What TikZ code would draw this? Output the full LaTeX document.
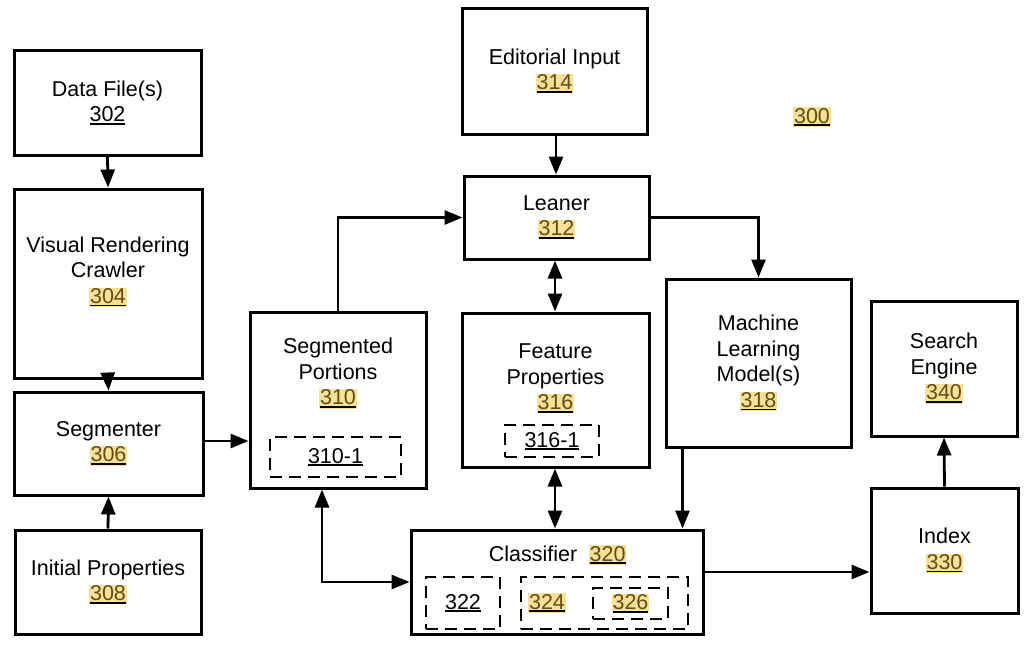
\documentclass[tikz,border=0pt]{standalone}
\usepackage{fontspec}
\setmainfont{Liberation Sans}
\usetikzlibrary{arrows.meta,positioning}
\definecolor{hlbg}{RGB}{248,224,150}
\definecolor{hltx}{RGB}{96,78,22}
\newcommand\ulnum[1]{\setbox0\hbox{#1}\leavevmode\rlap{\rule[-3pt]{\wd0}{1.6pt}}\box0}
\newcommand\hlnum[1]{{\setlength\fboxsep{0.6pt}\colorbox{hlbg}{\ulnum{\textcolor{hltx}{#1}}}}}
\tikzset{
  every node/.style={font=\fontsize{21.5}{25.5}\selectfont},
  blk/.style={draw, line width=3pt, rectangle, inner sep=0pt, align=center},
  dbox/.style={draw, line width=2.8pt, dash pattern=on 12pt off 7pt, rectangle, inner sep=0pt, align=center},
  txt/.style={align=center, inner sep=0pt},
  arr/.style={line width=2.8pt, -{Triangle[length=18pt,width=14pt]}},
  darr/.style={line width=2.8pt, {Triangle[length=18pt,width=14pt]}-{Triangle[length=18pt,width=14pt]}},
}
\begin{document}
\begin{tikzpicture}[x=1pt,y=-1pt]
\useasboundingbox (0,0) rectangle (1034,654);
% boxes
\node[blk, minimum width=187pt, minimum height=105pt] (df) at (107.5,102.5) {Data File(s)\\\ulnum{302}};
\node[blk, minimum width=188pt, minimum height=189pt] (vrc) at (108,283.5) {};
\node[txt] (vrct) at (108,272) {Visual Rendering\\Crawler\\\hlnum{304}};
\node[blk, minimum width=189pt, minimum height=103pt] (seg) at (108.5,443.5) {Segmenter\\\hlnum{306}};
\node[blk, minimum width=186pt, minimum height=104pt] (ip) at (108,582) {Initial Properties\\\hlnum{308}};
\node[blk, minimum width=176pt, minimum height=176pt] (sp) at (338,400) {};
\node[txt] (spt) at (338,373.5) {Segmented\\Portions\\\hlnum{310}};
\node[dbox, minimum width=131pt, minimum height=40pt] (sp1) at (335.5,457) {\ulnum{310-1}};
\node[blk, minimum width=185pt, minimum height=126pt] (ei) at (554.5,71) {Editorial Input\\\hlnum{314}};
\node[blk, minimum width=185pt, minimum height=83pt] (ln) at (556.5,217.5) {Leaner\\\hlnum{312}};
\node[blk, minimum width=187pt, minimum height=154pt] (fp) at (555.5,390) {};
\node[txt] (fpt) at (555.5,378.5) {Feature\\Properties\\\hlnum{316}};
\node[dbox, minimum width=94pt, minimum height=32pt] (fp1) at (552,441) {\ulnum{316-1}};
\node[blk, minimum width=185pt, minimum height=168pt] (ml) at (758.5,363) {Machine\\Learning\\Model(s)\\\hlnum{318}};
\node[blk, minimum width=146pt, minimum height=135pt] (se) at (944,368.5) {Search\\Engine\\\hlnum{340}};
\node[blk, minimum width=147pt, minimum height=125pt] (ix) at (944.5,550.5) {Index\\\hlnum{330}};
\node[blk, minimum width=292pt, minimum height=104pt] (cl) at (557,582) {};
\node[txt] (clt) at (557.5,555) {Classifier\ \ \hlnum{320}};
\node[dbox, minimum width=74pt, minimum height=52pt] (c322) at (463,603) {\ulnum{322}};
\node[dbox, minimum width=167pt, minimum height=52pt] (c324) at (604.5,603) {};
\node[txt] (c324t) at (547,603) {\hlnum{324}};
\node[dbox, minimum width=75pt, minimum height=31pt] (c326) at (630.5,603.5) {\hlnum{326}};
\node[txt] (n300) at (812,117) {\hlnum{300}};
% connectors
\draw[arr] (df.south) -- (vrc.north);
\draw[arr] (vrc.south) -- (seg.north);
\draw[arr] (ip.north) -- (seg.south);
\draw[arr] ([yshift=2.5pt]seg.east) -- ([yshift=2.5pt]seg.east -| sp.west);
\draw[arr] (sp.north) |- (ln.west);
\draw[arr] ([xshift=1.5pt]ei.south) -- ([xshift=1.5pt]ei.south |- ln.north);
\draw[darr] ([xshift=-1.5pt]ln.south) -- ([xshift=-1.5pt]ln.south |- fp.north);
\draw[arr] (ln.east) -| (ml.north);
\draw[darr] ([xshift=-0.5pt]fp.south) -- ([xshift=-0.5pt]fp.south |- cl.north);
\draw[arr] ([xshift=18pt]ml.south west) -- ([xshift=18pt]ml.south west |- cl.north);
\draw[arr] ([yshift=10pt]cl.east) -- ([yshift=10pt]cl.east -| ix.west);
\draw[arr] (ix.north) -- (se.south);
\draw[darr] ([xshift=-16pt]sp.south) |- (cl.west);
\end{tikzpicture}
\end{document}
